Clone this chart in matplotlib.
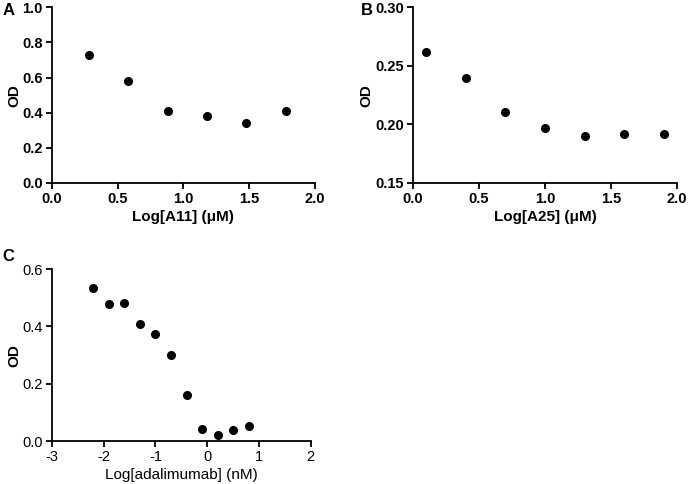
import matplotlib
matplotlib.use("Agg")
import matplotlib.pyplot as plt

plt.rcParams['font.family'] = ['Liberation Sans', 'DejaVu Sans']

a_x = [0.28, 0.58, 0.88, 1.18, 1.48, 1.78]
a_y = [0.73, 0.58, 0.41, 0.38, 0.34, 0.41]

b_x = [0.1, 0.4, 0.7, 1.0, 1.3, 1.6, 1.9]
b_y = [0.262, 0.240, 0.211, 0.197, 0.190, 0.192, 0.192]

c_x = [-2.2, -1.9, -1.6, -1.3, -1.0, -0.7, -0.4, -0.1, 0.2, 0.5, 0.8]
c_y = [0.533, 0.477, 0.483, 0.408, 0.374, 0.299, 0.162, 0.041, 0.021, 0.037, 0.052]

fig = plt.figure(figsize=(6.88, 4.84), dpi=100)

def style(ax, bold):
    for s in ['top', 'right']:
        ax.spines[s].set_visible(False)
    for s in ['left', 'bottom']:
        ax.spines[s].set_linewidth(1.3)
    ax.tick_params(direction='out', length=4, width=1.3, labelsize=10.5, pad=2.5)
    w = 'bold' if bold else 'normal'
    for lab in ax.get_xticklabels() + ax.get_yticklabels():
        lab.set_fontweight(w)

axA = fig.add_axes([0.0756, 0.622, 0.382, 0.363])
axA.plot(a_x, a_y, 'o', color='black', markersize=5.5)
axA.set_xlim(0, 2.0)
axA.set_ylim(0, 1.0)
axA.set_xticks([0.0, 0.5, 1.0, 1.5, 2.0])
axA.set_xticklabels(['0.0', '0.5', '1.0', '1.5', '2.0'])
axA.set_yticks([0.0, 0.2, 0.4, 0.6, 0.8, 1.0])
axA.set_yticklabels(['0.0', '0.2', '0.4', '0.6', '0.8', '1.0'])
axA.set_xlabel('Log[A11] (μM)', fontsize=11, fontweight='bold', labelpad=3)
axA.set_ylabel('OD', fontsize=11, fontweight='bold', labelpad=1)
style(axA, True)

axB = fig.add_axes([0.600, 0.622, 0.384, 0.363])
axB.plot(b_x, b_y, 'o', color='black', markersize=5.5)
axB.set_xlim(0, 2.0)
axB.set_ylim(0.15, 0.30)
axB.set_xticks([0.0, 0.5, 1.0, 1.5, 2.0])
axB.set_xticklabels(['0.0', '0.5', '1.0', '1.5', '2.0'])
axB.set_yticks([0.15, 0.20, 0.25, 0.30])
axB.set_yticklabels(['0.15', '0.20', '0.25', '0.30'])
axB.set_xlabel('Log[A25] (μM)', fontsize=11, fontweight='bold', labelpad=3)
axB.set_ylabel('OD', fontsize=11, fontweight='bold', labelpad=1)
style(axB, True)

axC = fig.add_axes([0.0756, 0.0888, 0.376, 0.355])
axC.plot(c_x, c_y, 'o', color='black', markersize=5.5)
axC.set_xlim(-3, 2)
axC.set_ylim(0, 0.6)
axC.set_xticks([-3, -2, -1, 0, 1, 2])
axC.set_xticklabels(['-3', '-2', '-1', '0', '1', '2'])
axC.set_yticks([0.0, 0.2, 0.4, 0.6])
axC.set_yticklabels(['0.0', '0.2', '0.4', '0.6'])
axC.set_xlabel('Log[adalimumab] (nM)', fontsize=11, labelpad=3)
axC.set_ylabel('OD', fontsize=11, fontweight='bold', labelpad=1)
style(axC, False)

fig.text(0.004, 0.978, 'A', fontsize=12, fontweight='bold', va='center')
fig.text(0.524, 0.978, 'B', fontsize=12, fontweight='bold', va='center')
fig.text(0.004, 0.470, 'C', fontsize=12, fontweight='bold', va='center')

fig.savefig('out.png', dpi=100)
